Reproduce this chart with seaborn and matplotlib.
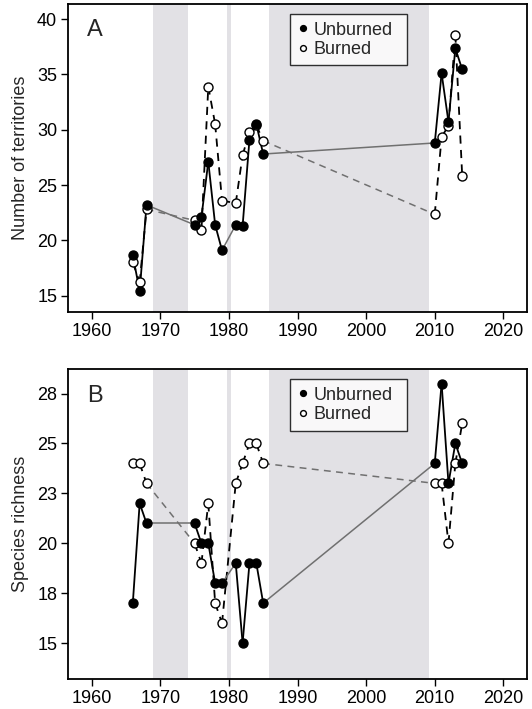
import matplotlib
matplotlib.use("Agg")
import matplotlib.pyplot as plt
import seaborn as sns
import pandas as pd
from matplotlib.lines import Line2D

sns.set_theme(style="white")
plt.rcParams['font.family'] = ['Liberation Sans', 'DejaVu Sans']

# ---------------- data ----------------
years = [1966, 1967, 1968, 1975, 1976, 1977, 1978, 1979, 1981, 1982, 1983,
         1984, 1985, 2010, 2011, 2012, 2013, 2014]

terr_unburned = [18.65, 15.4, 23.2, 21.4, 22.1, 27.1, 21.4, 19.1, 21.4, 21.3,
                 29.1, 30.5, 27.8, 28.8, 35.1, 30.7, 37.35, 35.45]
terr_burned = [18.0, 16.2, 22.8, 21.8, 20.9, 33.9, 30.5, 23.6, 23.35, 27.7,
               29.8, 30.4, 29.0, 22.35, 29.35, 30.35, 38.6, 25.85]

rich_unburned = [17, 22, 21, 21, 20, 20, 18, 18, 19, 15, 19, 19, 17,
                 24, 28, 23, 25, 24]
rich_burned = [24, 24, 23, 20, 19, 22, 17, 16, 23, 24, 25, 25, 24,
               23, 23, 20, 24, 26]

shade_periods = [(1968.9, 1974.1), (1979.75, 1980.25), (1985.8, 2009.1)]

xticks = [1960, 1970, 1980, 1990, 2000, 2010, 2020]
a_yticks = [15, 20, 25, 30, 35, 40]
a_yticklabels = ["15", "20", "25", "30", "35", "40"]
b_yticks = [15, 17.5, 20, 22.5, 25, 27.5]
b_yticklabels = ["15", "18", "20", "23", "25", "28"]

# ---------------- figure ----------------
fig = plt.figure(figsize=(5.32, 7.09), dpi=100)
left, right = 68.3 / 532, 526.7 / 532
axA = fig.add_axes([left, 1 - 311.7 / 709, right - left, (311.7 - 4) / 709])
axB = fig.add_axes([left, 1 - 679 / 709, right - left, (679 - 369) / 709])

SHADE = "#e2e1e5"
GRAY = "#707070"
FS = 13


def draw_series(ax, yrs, vals, dashed, filled):
    df = pd.DataFrame({"year": yrs, "value": vals})
    ls = (0, (4.5, 3.5)) if dashed else "-"
    for i in range(len(df) - 1):
        seg = df.iloc[i:i + 2]
        y0, y1 = seg["year"].iloc[0], seg["year"].iloc[1]
        gap = (y1 - y0) > 1
        color = "black"
        lw = 1.3
        if gap:
            if not (dashed and y0 == 1979):
                color = GRAY
                lw = 1.1
        sns.lineplot(data=seg, x="year", y="value", ax=ax, color=color,
                     linewidth=lw, linestyle=ls, sort=False, zorder=2,
                     legend=False)
    sns.scatterplot(data=df, x="year", y="value", ax=ax,
                    color="black" if filled else "white",
                    edgecolor="black", linewidth=1.0, s=42, zorder=3,
                    legend=False)


def style_axis(ax, ylim, yticks, yticklabels, ylabel, letter):
    for a, b in shade_periods:
        ax.axvspan(a, b, color=SHADE, lw=0, zorder=0)
    ax.set_xlim(1956.6, 2023.4)
    ax.set_ylim(*ylim)
    ax.set_xticks(xticks)
    ax.set_xticklabels([str(x) for x in xticks], fontsize=FS)
    ax.set_yticks(yticks)
    ax.set_yticklabels(yticklabels, fontsize=FS)
    ax.set_xlabel("")
    ax.set_ylabel(ylabel, fontsize=FS, labelpad=6)
    ax.tick_params(direction="out", length=5, width=1.0, colors="black",
                   bottom=True, left=True, pad=3)
    for sp in ax.spines.values():
        sp.set_color("black")
        sp.set_linewidth(1.3)
    ax.text(0.041, 0.95, letter, transform=ax.transAxes, fontsize=17,
            va="top", ha="left")
    handles = [Line2D([], [], marker="o", linestyle="none", markersize=4.2,
                      markerfacecolor="black", markeredgecolor="black"),
               Line2D([], [], marker="o", linestyle="none", markersize=4.2,
                      markerfacecolor="white", markeredgecolor="black")]
    leg = ax.legend(handles, ["Unburned", "Burned"], loc="upper left",
                    bbox_to_anchor=(0.4837, 0.5, 0.256, 0.4665),
                    mode="expand", fontsize=FS,
                    frameon=True, fancybox=False, handlelength=0.6,
                    handletextpad=0.3, borderpad=0.4, labelspacing=0.15,
                    borderaxespad=0)
    leg.get_frame().set_edgecolor("black")
    leg.get_frame().set_linewidth(1.0)


draw_series(axA, years, terr_burned, dashed=True, filled=False)
draw_series(axA, years, terr_unburned, dashed=False, filled=True)
style_axis(axA, (13.55, 41.36), a_yticks, a_yticklabels,
           "Number of territories", "A")

draw_series(axB, years, rich_burned, dashed=True, filled=False)
draw_series(axB, years, rich_unburned, dashed=False, filled=True)
style_axis(axB, (13.2, 28.73), b_yticks, b_yticklabels,
           "Species richness", "B")

fig.savefig("out.png", dpi=100)
